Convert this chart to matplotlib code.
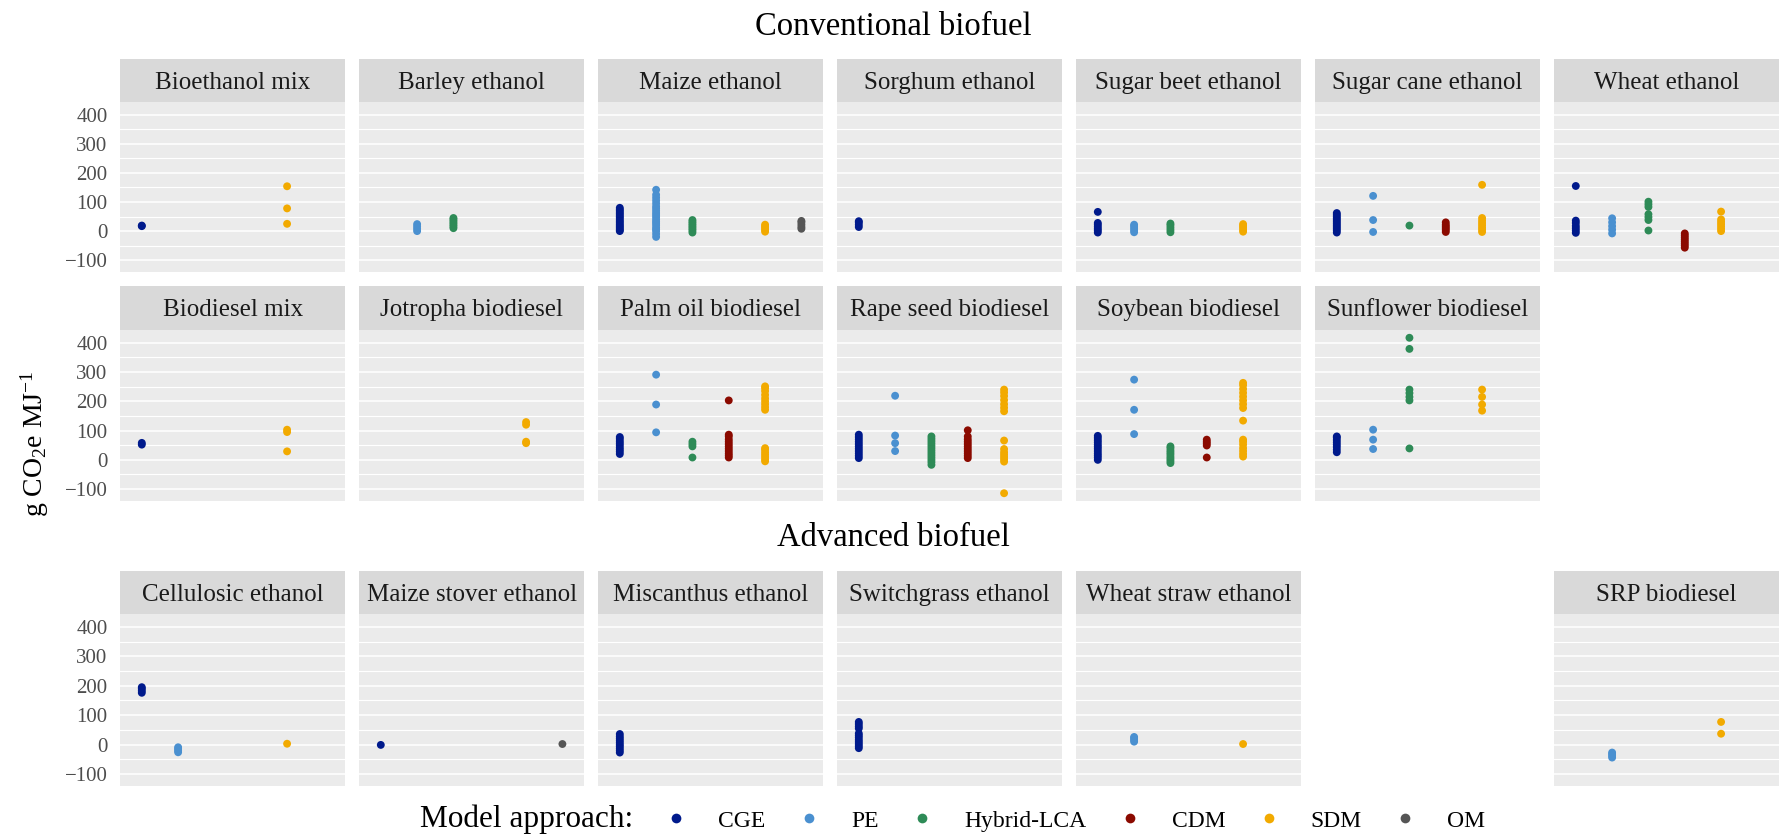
import matplotlib
matplotlib.use("Agg")
import matplotlib.pyplot as plt
from matplotlib.lines import Line2D
import numpy as np

plt.rcParams["font.family"] = ["Liberation Serif", "DejaVu Serif"]
plt.rcParams["mathtext.fontset"] = "custom"
plt.rcParams["mathtext.rm"] = "Liberation Serif"
plt.rcParams["mathtext.it"] = "Liberation Serif:italic"

# ---------------- data ----------------
approaches = ["CGE", "PE", "Hybrid-LCA", "CDM", "SDM", "OM"]
approach_colors = ["#001A8C", "#4A90D0", "#2E8B57", "#8B0A00", "#F2AA00", "#555555"]
y_ticks = [-100, 0, 100, 200, 300, 400]
y_minor_ticks = [-50, 50, 150, 250, 350]

# Conventional biofuel, row 1
bioethanol_mix = {"CGE": [17, 19], "SDM": [25, 78, 154]}
barley_ethanol = {"PE": [0, 8, 16, 24], "Hybrid-LCA": [10, 16, 22, 28, 34, 40, 45]}
maize_ethanol = {
    "CGE": [0, 4, 9, 14, 19, 24, 30, 35, 41, 47, 52, 58, 63, 69, 74, 80],
    "PE": [-20, -10, 0, 6, 12, 20, 27, 33, 40, 48, 55, 62, 70, 78, 85, 95, 105, 115, 125, 142],
    "Hybrid-LCA": [-5, 2, 8, 14, 20, 26, 32, 38],
    "SDM": [-2, 4, 10, 16, 22],
    "OM": [8, 14, 22, 30, 35],
}
sorghum_ethanol = {"CGE": [14, 22, 30, 34]}
sugar_beet_ethanol = {
    "CGE": [-5, 2, 8, 15, 22, 28, 66],
    "PE": [-4, 3, 10, 17, 22],
    "Hybrid-LCA": [-4, 4, 12, 20, 26],
    "SDM": [-2, 5, 12, 18, 24],
}
sugar_cane_ethanol = {
    "CGE": [-5, 2, 8, 14, 20, 26, 32, 38, 44, 50, 56, 62],
    "PE": [-3, 38, 121],
    "Hybrid-LCA": [19],
    "CDM": [-3, 4, 10, 16, 22, 30],
    "SDM": [-3, 5, 12, 20, 28, 36, 45, 159],
}
wheat_ethanol = {
    "CGE": [-6, 2, 10, 18, 28, 36, 155],
    "PE": [-8, 5, 17, 30, 44],
    "Hybrid-LCA": [2, 38, 48, 58, 83, 92, 101],
    "CDM": [-57, -50, -43, -36, -29, -22, -15, -8],
    "SDM": [0, 8, 16, 24, 32, 40, 67],
}

# Conventional biofuel, row 2
biodiesel_mix = {"CGE": [52, 58], "SDM": [29, 95, 103]}
jotropha_biodiesel = {"SDM": [57, 62, 120, 129]}
palm_oil_biodiesel = {
    "CGE": [20, 28, 35, 42, 50, 57, 64, 72, 78],
    "PE": [94, 189, 291],
    "Hybrid-LCA": [8, 46, 54, 62],
    "CDM": [8, 15, 22, 30, 38, 46, 54, 62, 70, 80, 86, 203],
    "SDM": [-5, 2, 10, 18, 26, 35, 40, 171, 180, 190, 200, 210, 222, 235, 245, 251],
}
rape_seed_biodiesel = {
    "CGE": [6, 14, 22, 30, 38, 46, 54, 62, 70, 78, 86],
    "PE": [30, 57, 83, 219],
    "Hybrid-LCA": [-17, -8, 0, 8, 16, 24, 32, 40, 48, 56, 64, 72, 80],
    "CDM": [6, 14, 22, 30, 38, 46, 54, 62, 70, 80, 101],
    "SDM": [-114, -6, 2, 10, 18, 26, 37, 66, 166, 178, 190, 204, 218, 230, 240],
}
soybean_biodiesel = {
    "CGE": [0, 8, 15, 22, 30, 38, 45, 52, 60, 67, 75, 82],
    "PE": [88, 171, 274],
    "Hybrid-LCA": [-11, -4, 3, 10, 18, 25, 32, 40, 46],
    "CDM": [8, 49, 56, 62, 69],
    "SDM": [11, 20, 30, 40, 52, 62, 69, 134, 177, 190, 203, 216, 229, 242, 255, 263],
}
sunflower_biodiesel = {
    "CGE": [26, 35, 44, 52, 60, 68, 76, 80],
    "PE": [37, 69, 103],
    "Hybrid-LCA": [39, 203, 215, 228, 240, 379, 417],
    "SDM": [168, 189, 215, 240],
}

# Advanced biofuel
cellulosic_ethanol = {"CGE": [176, 183, 190, 195], "PE": [-26, -20, -14, -9], "SDM": [3]}
maize_stover_ethanol = {"CGE": [-1], "OM": [2]}
miscanthus_ethanol = {"CGE": [-27, -20, -13, -6, 0, 7, 14, 21, 28, 36]}
switchgrass_ethanol = {"CGE": [-12, -5, 2, 9, 16, 24, 31, 38, 55, 62, 70, 77]}
wheat_straw_ethanol = {"PE": [10, 16, 22, 26], "SDM": [2]}
srp_biodiesel = {"PE": [-44, -38, -32, -27], "SDM": [37, 77]}

conventional_rows = [
    [("Bioethanol mix", bioethanol_mix), ("Barley ethanol", barley_ethanol),
     ("Maize ethanol", maize_ethanol), ("Sorghum ethanol", sorghum_ethanol),
     ("Sugar beet ethanol", sugar_beet_ethanol), ("Sugar cane ethanol", sugar_cane_ethanol),
     ("Wheat ethanol", wheat_ethanol)],
    [("Biodiesel mix", biodiesel_mix), ("Jotropha biodiesel", jotropha_biodiesel),
     ("Palm oil biodiesel", palm_oil_biodiesel), ("Rape seed biodiesel", rape_seed_biodiesel),
     ("Soybean biodiesel", soybean_biodiesel), ("Sunflower biodiesel", sunflower_biodiesel)],
]
advanced_row = [("Cellulosic ethanol", cellulosic_ethanol), ("Maize stover ethanol", maize_stover_ethanol),
                ("Miscanthus ethanol", miscanthus_ethanol), ("Switchgrass ethanol", switchgrass_ethanol),
                ("Wheat straw ethanol", wheat_straw_ethanol), None, ("SRP biodiesel", srp_biodiesel)]

# ---------------- layout ----------------
W, H = 1780, 838
fig = plt.figure(figsize=(W / 100, H / 100), dpi=100)


def rect(left, top, width, height):
    return [left / W, 1 - (top + height) / H, width / W, height / H]


PANEL_LEFT = 120
PANEL_W = 225.2
PANEL_GAP = 13.8
rows_layout = [(59, 102, 272), (286, 330, 501), (571, 614, 786)]

all_vals = []
for row in conventional_rows + [advanced_row]:
    for item in row:
        if item is None:
            continue
        for v in item[1].values():
            all_vals.extend(v)
vmin, vmax = min(all_vals), max(all_vals)
pad = 0.05 * (vmax - vmin)
ylim = (vmin - pad, vmax + pad)


def draw_panel(col, row_idx, name, data):
    strip_top, panel_top, panel_bottom = rows_layout[row_idx]
    left = PANEL_LEFT + col * (PANEL_W + PANEL_GAP)
    ax = fig.add_axes(rect(left, panel_top, PANEL_W, panel_bottom - panel_top))
    ax.set_facecolor("#EBEBEB")
    ax.set_xlim(0.4, len(approaches) + 0.6)
    ax.set_ylim(*ylim)
    ax.set_yticks(y_ticks)
    ax.set_yticks(y_minor_ticks, minor=True)
    ax.grid(True, which="major", axis="y", color="white", lw=1.1)
    ax.grid(True, which="minor", axis="y", color="white", lw=0.8)
    ax.set_axisbelow(True)
    ax.set_xticks([])
    ax.tick_params(axis="y", which="both", length=0, labelsize=15,
                   labelcolor="#4D4D4D", pad=9, labelleft=(col == 0))
    for s in ax.spines.values():
        s.set_visible(False)
    for i, (a, c) in enumerate(zip(approaches, approach_colors)):
        vals = data.get(a, [])
        if vals:
            ax.scatter(np.full(len(vals), i + 1), vals, s=32, color=c,
                       edgecolors="none", zorder=3)
    sax = fig.add_axes(rect(left, strip_top, PANEL_W, panel_top - strip_top))
    sax.set_facecolor("#D9D9D9")
    sax.set_xticks([])
    sax.set_yticks([])
    for s in sax.spines.values():
        s.set_visible(False)
    fig.text((left + PANEL_W / 2) / W, 1 - (strip_top + 30) / H, name,
             ha="center", va="baseline", fontsize=18, color="#1A1A1A")


for r, row in enumerate(conventional_rows):
    for c, item in enumerate(row):
        if item is not None:
            draw_panel(c, r, item[0], item[1])
for c, item in enumerate(advanced_row):
    if item is not None:
        draw_panel(c, 2, item[0], item[1])

# titles
fig.text(893 / W, 1 - 35 / H, "Conventional biofuel", ha="center", va="baseline", fontsize=23.5)
fig.text(893 / W, 1 - 546 / H, "Advanced biofuel", ha="center", va="baseline", fontsize=23.5)

# y label
fig.text(35 / W, 1 - 444 / H, r"g CO$_\mathregular{2}$e MJ$^\mathregular{-1}$",
         rotation=90, ha="center", va="center", fontsize=20)

# legend (manual, ggplot-style horizontal)
renderer = fig.canvas.get_renderer()
legend_base = 827
legend_dot_y = 818
gap_text_to_dot = 43.5
gap_dot_to_text = 42
title_t = fig.text(0, 1 - legend_base / H, "Model approach:", ha="left", va="baseline", fontsize=22.5)
label_ts = [fig.text(0, 1 - legend_base / H, a, ha="left", va="baseline", fontsize=17) for a in approaches]
fig.canvas.draw()
cursor = title_t.get_window_extent(renderer).width
positions = []
for t in label_ts:
    cursor += gap_text_to_dot
    dot_x = cursor
    text_x = dot_x + gap_dot_to_text
    positions.append((dot_x, text_x))
    cursor = text_x + t.get_window_extent(renderer).width
total = cursor
offset = 952.5 - total / 2
title_t.set_x(offset / W)
for (dot_x, text_x), t, col in zip(positions, label_ts, approach_colors):
    t.set_x((offset + text_x) / W)
    fig.add_artist(Line2D([(offset + dot_x) / W], [1 - legend_dot_y / H], transform=fig.transFigure,
                          marker="o", markersize=7, color=col, linestyle="none", markeredgewidth=0))

fig.savefig("out.png", dpi=100)
